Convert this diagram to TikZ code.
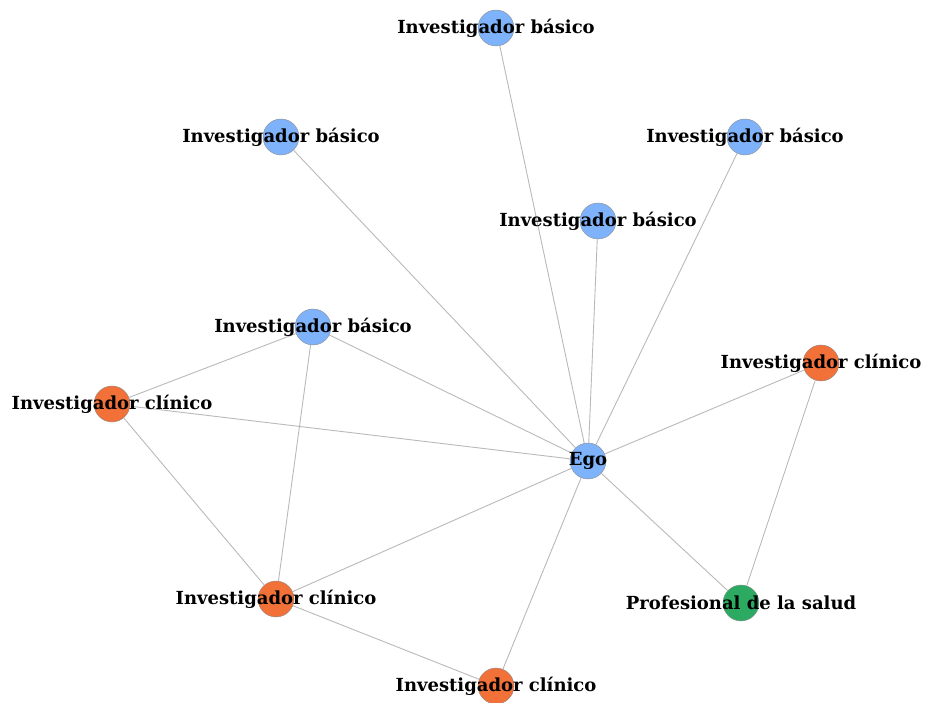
\documentclass[tikz,border=0pt]{standalone}
\usepackage{fontspec}
\setmainfont{DejaVu Serif}
\definecolor{nblue}{RGB}{126,178,250}
\definecolor{norange}{RGB}{241,113,57}
\definecolor{ngreen}{RGB}{45,170,98}
\definecolor{edgec}{RGB}{185,185,185}
\tikzset{
  vtx/.style={circle, minimum size=36pt, inner sep=0pt, draw=black!45, line width=0.4pt},
  blue/.style={vtx, fill=nblue},
  orange/.style={vtx, fill=norange},
  green/.style={vtx, fill=ngreen},
  lbl/.style={font=\bfseries\fontsize{18}{20}\selectfont, inner sep=0pt, text=black},
  edge/.style={draw=edgec, line width=0.9pt}
}
\begin{document}
\begin{tikzpicture}[x=1pt,y=1pt]
\useasboundingbox (0,0) rectangle (925,703);
\node[blue] (ib1) at (496,675) {};
\node[blue] (ib2) at (281,566) {};
\node[blue] (ib3) at (745,566) {};
\node[blue] (ib4) at (598,482) {};
\node[blue] (ib5) at (313,376) {};
\node[orange] (ic1) at (112,299) {};
\node[orange] (ic2) at (821,340) {};
\node[blue] (ego) at (588,242) {};
\node[orange] (ic3) at (276,104) {};
\node[green] (ps) at (741,100) {};
\node[orange] (ic4) at (496,17) {};
\foreach \a/\b in {ego/ib1,ego/ib2,ego/ib3,ego/ib4,ego/ib5,ego/ic1,ego/ic2,ego/ic3,ego/ic4,ego/ps,ib5/ic1,ib5/ic3,ic1/ic3,ic3/ic4,ic2/ps}
  \draw[edge] (\a) -- (\b);
\node[lbl] (t1) at (ib1) {Investigador básico};
\node[lbl] (t2) at (ib2) {Investigador básico};
\node[lbl] (t3) at (ib3) {Investigador básico};
\node[lbl] (t4) at (ib4) {Investigador básico};
\node[lbl] (t5) at (ib5) {Investigador básico};
\node[lbl] (t6) at (ic1) {Investigador clínico};
\node[lbl] (t7) at (ic2) {Investigador clínico};
\node[lbl] (t8) at (ego) {Ego};
\node[lbl] (t9) at (ic3) {Investigador clínico};
\node[lbl] (t10) at (ps) {Profesional de la salud};
\node[lbl] (t11) at (ic4) {Investigador clínico};
\end{tikzpicture}
\end{document}
